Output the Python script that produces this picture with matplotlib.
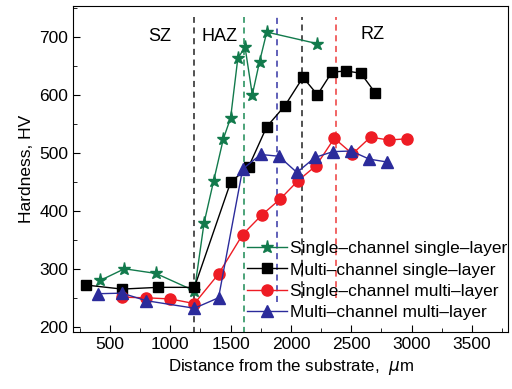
import matplotlib.pyplot as plt
from matplotlib.ticker import MultipleLocator

plt.rcParams['font.family'] = ['Liberation Sans', 'DejaVu Sans']
plt.rcParams['mathtext.fontset'] = 'dejavusans'

# Data
ss_x = [420, 620, 880, 1200, 1280, 1360, 1440, 1500, 1560, 1620, 1680, 1740, 1800, 2220]
ss_y = [280, 300, 292, 262, 379, 452, 524, 560, 663, 682, 600, 657, 708, 688]

ms_x = [300, 600, 900, 1200, 1500, 1650, 1800, 1950, 2100, 2220, 2340, 2460, 2580, 2700]
ms_y = [272, 265, 268, 268, 449, 476, 545, 581, 630, 600, 639, 641, 637, 603]

sm_x = [600, 800, 1000, 1200, 1400, 1600, 1760, 1910, 2060, 2210, 2360, 2510, 2660, 2810, 2960]
sm_y = [251, 250, 248, 240, 291, 359, 393, 420, 452, 478, 525, 498, 527, 522, 524]

mm_x = [400, 600, 800, 1200, 1400, 1600, 1750, 1900, 2050, 2200, 2350, 2500, 2650, 2800]
mm_y = [257, 258, 245, 232, 250, 472, 497, 494, 466, 492, 502, 503, 489, 484]

# zone boundaries (x, lower end of dashed line, colour)
zone_x = [1200, 1610, 1887, 2095, 2370]
zone_bottom = [190, 190, 243, 250, 250]
zone_top = 734
zone_colors = ['#222222', '#1b8a55', '#3535a5', '#222222', '#ee3a3a']

green = '#127a4c'
red = '#ee1c24'
blue = '#2b2b9b'

fig = plt.figure(figsize=(5.12, 3.89), dpi=100)
ax = fig.add_axes([0.1432, 0.1465, 0.8490, 0.8381])

for x, yb, c in zip(zone_x, zone_bottom, zone_colors):
    ax.plot([x, x], [yb, zone_top], color=c, linestyle=(0, (4, 3)), linewidth=1.1, zorder=1)

ax.plot(ss_x, ss_y, color=green, marker='*', markersize=9.5, linewidth=1,
        label='Single\u2013channel single\u2013layer', zorder=3)
ax.plot(ms_x, ms_y, color='black', marker='s', markersize=7, linewidth=1,
        label='Multi\u2013channel single\u2013layer', zorder=3)
ax.plot(sm_x, sm_y, color=red, marker='o', markersize=8, linewidth=1,
        label='Single\u2013channel multi\u2013layer', zorder=3)
ax.plot(mm_x, mm_y, color=blue, marker='^', markersize=8, linewidth=1,
        label='Multi\u2013channel multi\u2013layer', zorder=3)

ax.text(915, 700, 'SZ', fontsize=13, ha='center', va='center')
ax.text(1405, 700, 'HAZ', fontsize=13, ha='center', va='center')
ax.text(2675, 703, 'RZ', fontsize=13, ha='center', va='center')

ax.set_xlim(196, 3800)
ax.set_ylim(191, 753)
ax.xaxis.set_major_locator(MultipleLocator(500))
ax.xaxis.set_minor_locator(MultipleLocator(250))
ax.yaxis.set_major_locator(MultipleLocator(100))
ax.yaxis.set_minor_locator(MultipleLocator(50))
ax.tick_params(which='both', direction='in', labelsize=12.5)
ax.tick_params(which='major', length=5)
ax.tick_params(which='minor', length=3)

ax.set_xlabel('Distance from the substrate,  $\\mu$m', fontsize=12.2)
ax.set_ylabel('Hardness, HV', fontsize=12.5)

ax.legend(loc='center left', bbox_to_anchor=(0.399, 0.158), frameon=False,
          fontsize=12.5, handlelength=2.3, handletextpad=0.2, labelspacing=0.34,
          borderpad=0, borderaxespad=0)

fig.savefig('out.png', dpi=100)
